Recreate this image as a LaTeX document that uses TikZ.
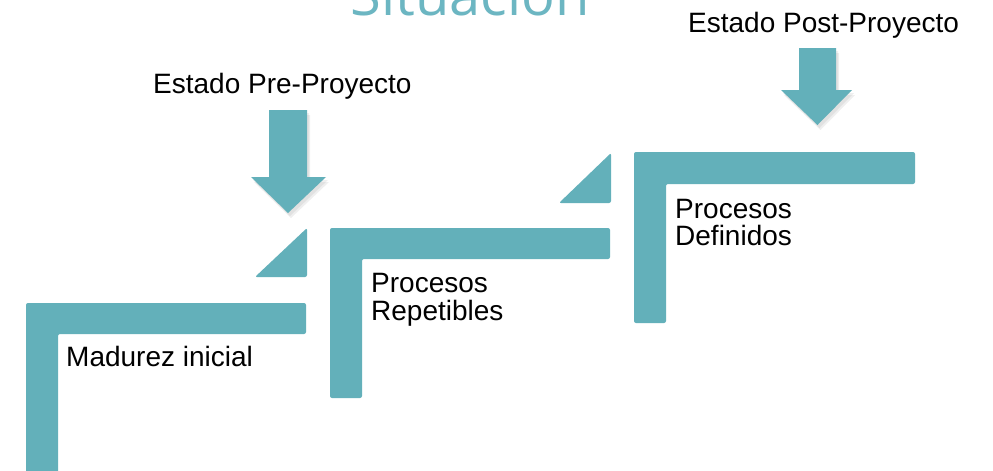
\documentclass[tikz,border=0pt]{standalone}
\usepackage{fontspec}
\setmainfont{Liberation Sans}
\newfontfamily\titlefont{Open Sans}
\usetikzlibrary{shadows}
\definecolor{teal1}{RGB}{99,176,186}
\definecolor{titlecol}{RGB}{108,182,194}
\begin{document}
\begin{tikzpicture}[x=1pt,y=-1pt,
  stepshape/.style={fill=teal1, draw=none, rounded corners=2pt},
  arrowshape/.style={fill=teal1, draw=none,
    drop shadow={opacity=0.12, shadow xshift=2pt, shadow yshift=-3pt},
    drop shadow={opacity=0.12, shadow xshift=3pt, shadow yshift=-5pt}},
  lbl/.style={font=\fontsize{28}{30}\selectfont, text=black, inner sep=0pt, anchor=base west}]
\useasboundingbox (0,0) rectangle (993,471);
\clip (0,0) rectangle (993,471);
\fill[white] (0,0) rectangle (993,471);
% title
\node[font=\titlefont\fontsize{56}{60}\selectfont, text=titlecol, inner sep=0pt, anchor=base] (title) at (470,15) {Situación};
% steps
\path[stepshape] (26,303) -- (306,303) -- (306,334) -- (58,334) -- (58,490) -- (26,490) -- cycle;
\path[stepshape] (330,228) -- (610,228) -- (610,259) -- (362,259) -- (362,398) -- (330,398) -- cycle;
\path[stepshape] (634,152) -- (915,152) -- (915,184) -- (666,184) -- (666,323) -- (634,323) -- cycle;
% triangles
\path[stepshape] (255,277) -- (307,228) -- (307,277) -- cycle;
\path[stepshape] (559,203) -- (611,153) -- (611,203) -- cycle;
% arrows
\path[arrowshape] (269,110) -- (307,110) -- (307,177) -- (326,177) -- (288,213) -- (251,177) -- (269,177) -- cycle;
\path[arrowshape] (799,48) -- (836,48) -- (836,90) -- (852,90) -- (817.5,125) -- (781,90) -- (799,90) -- cycle;
% labels
\node[lbl] (pre) at (153,93) {Estado Pre-Proyecto};
\node[lbl] (post) at (688,32) {Estado Post-Proyecto};
\node[lbl] (mad) at (66,366) {Madurez inicial};
\node[lbl] (rep1) at (371,292) {Procesos};
\node[lbl] (rep2) at (371,320) {Repetibles};
\node[lbl] (def1) at (675,218) {Procesos};
\node[lbl] (def2) at (675,245) {Definidos};
\end{tikzpicture}
\end{document}
